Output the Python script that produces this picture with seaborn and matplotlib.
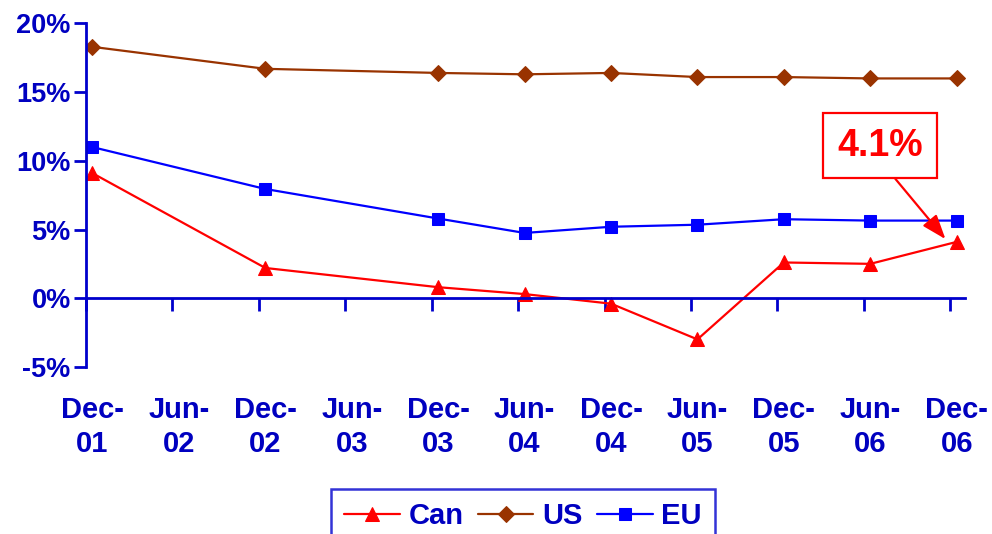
import matplotlib
matplotlib.use("Agg")
import matplotlib.pyplot as plt
import matplotlib.transforms as mtransforms
import numpy as np
import pandas as pd
import seaborn as sns

# half-year periods on the axis
periods = ["Dec-\n01", "Jun-\n02", "Dec-\n02", "Jun-\n03", "Dec-\n03", "Jun-\n04",
           "Dec-\n04", "Jun-\n05", "Dec-\n05", "Jun-\n06", "Dec-\n06"]
# index of the periods that actually have data (no Jun-02 / Jun-03 values)
obs_idx = [0, 2, 4, 5, 6, 7, 8, 9, 10]

can = [9.1, 2.2, 0.8, 0.3, -0.4, -3.0, 2.6, 2.5, 4.1]
us = [18.3, 16.7, 16.4, 16.3, 16.4, 16.1, 16.1, 16.0, 16.0]
eu = [11.0, 7.95, 5.8, 4.75, 5.2, 5.35, 5.75, 5.65, 5.65]

yticks = [-5, 0, 5, 10, 15, 20]

# points sit a little after the tick (date axis in the original)
shift = 0.075

rows = []
for name, vals in [("Can", can), ("US", us), ("EU", eu)]:
    for i, v in zip(obs_idx, vals):
        rows.append({"x": i + shift, "val": v, "series": name})
df = pd.DataFrame(rows)

sns.set_style("white")
plt.rcParams["font.family"] = ["Liberation Sans", "DejaVu Sans"]
txt_col = "#0000c0"
ax_col = "#0000cc"

fig = plt.figure(figsize=(9.92, 5.34), dpi=100)
ax = fig.add_axes([0.0867, 0.313, 0.886, 0.643])

palette = {"Can": "#ff0000", "US": "#993300", "EU": "#0000ff"}
markers = {"Can": "^", "US": "D", "EU": "s"}
sizes_ms = {"Can": 10, "US": 8, "EU": 8}

for name in ["Can", "US", "EU"]:
    sub = df[df["series"] == name]
    sns.lineplot(data=sub, x="x", y="val", ax=ax, color=palette[name],
                 marker=markers[name], markersize=sizes_ms[name],
                 markeredgecolor=palette[name], linewidth=1.6, label=name)

ax.set_xlim(0, 10.17)
ax.set_ylim(-5, 20)
ax.set_xlabel("")
ax.set_ylabel("")

# axes: left spine at x=0, bottom spine at y=0
for s in ["top", "right"]:
    ax.spines[s].set_visible(False)
ax.spines["left"].set_position(("data", 0))
ax.spines["bottom"].set_position(("data", 0))
for s in ["left", "bottom"]:
    ax.spines[s].set_color(ax_col)
    ax.spines[s].set_linewidth(2)

ax.set_yticks(yticks)
ax.set_yticklabels([f"{t}%" for t in yticks], fontsize=19.5, fontweight="bold",
                   color=txt_col)
ax.tick_params(axis="y", direction="out", length=9, width=2, color=ax_col, pad=2,
               left=True)
ax.set_xticks(range(len(periods)))
ax.set_xticklabels([])
ax.tick_params(axis="x", direction="out", length=9, width=2, color=ax_col,
               bottom=True)

trans = mtransforms.blended_transform_factory(ax.transData, ax.transAxes)
for i, lab in enumerate(periods):
    ax.text(i + shift, -0.085, lab, transform=trans, ha="center", va="top",
            fontsize=21, fontweight="bold", color=txt_col, linespacing=1.28,
            clip_on=False)

# callout for latest Canadian value
ax.annotate(f"{can[-1]}%", xy=(obs_idx[-1] + shift - 0.13, can[-1] + 0.2),
            xytext=(9.19, 11.1), ha="center", va="center",
            fontsize=27, fontweight="bold", color="#ff0000",
            bbox=dict(boxstyle="square,pad=0.38", fc="white", ec="#ff0000", lw=1.6),
            arrowprops=dict(arrowstyle="-|>,head_length=0.55,head_width=0.2",
                            color="#ff0000", lw=1.6, shrinkA=0, shrinkB=0,
                            relpos=(0.53, 0.0)))

leg = ax.legend(loc="upper center", bbox_to_anchor=(523 / 992, 1 - 489 / 534),
                bbox_transform=fig.transFigure, ncol=3, frameon=True,
                fancybox=False, prop={"size": 21, "weight": "bold"},
                handlelength=1.9, handletextpad=0.3, columnspacing=0.5,
                borderpad=0.45, borderaxespad=0)
leg.get_frame().set_edgecolor(ax_col)
leg.get_frame().set_linewidth(1.8)
for t in leg.get_texts():
    t.set_color(txt_col)

fig.savefig("out.png", dpi=100)
